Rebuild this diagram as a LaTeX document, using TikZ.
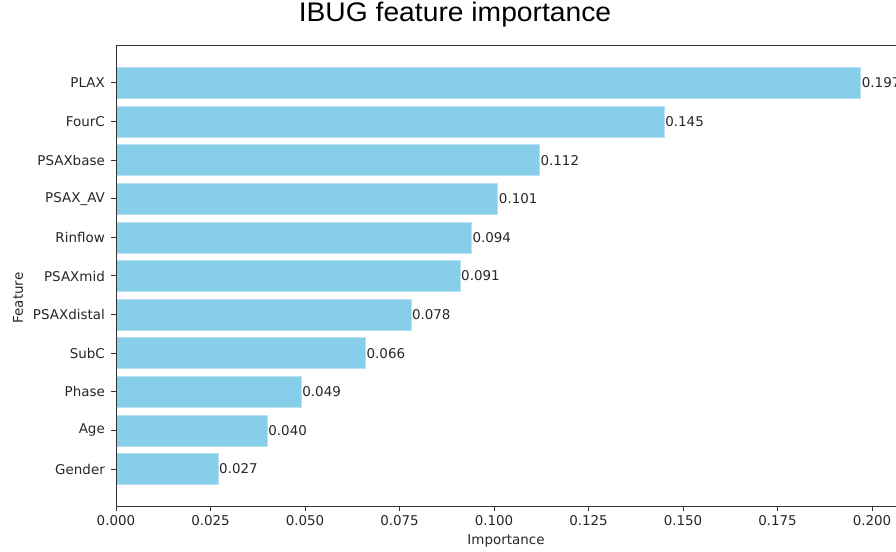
\documentclass[tikz,border=0pt]{standalone}
\usepackage{fontspec}
\setmainfont{DejaVu Sans}
\newfontfamily\titlefont{Liberation Sans}
\usepackage{xcolor}
\usetikzlibrary{positioning, calc}
\definecolor{skyblue}{HTML}{87CEEB}

\begin{document}
\begin{tikzpicture}[x=1bp, y=-1bp,
    every node/.style={font=\fontsize{13.5}{15}\selectfont, text=black!85, inner sep=0pt},
    bar/.style={fill=skyblue, draw=skyblue!60!white, line width=0.6bp},
    spine/.style={line width=1bp, black!80}]
    \useasboundingbox (0,0) rectangle (896,552);
    \clip (0,0) rectangle (896,552);

    % Title
    \node[font=\titlefont\fontsize{27}{30}\selectfont, text=black, xscale=1.05] (title) at (455,15) {IBUG feature importance};

    % Bars
    \foreach \name/\val [count=\i from 0] in {PLAX/0.197, FourC/0.145, PSAXbase/0.112, PSAX\_AV/0.101, Rinflow/0.094, PSAXmid/0.091, PSAXdistal/0.078, SubC/0.066, Phase/0.049, Age/0.040, Gender/0.027} {
        \pgfmathsetmacro{\yc}{83+\i*38.6}
        \pgfmathsetmacro{\xe}{116+\val*3780}
        \filldraw[bar] (116,\yc-15.45) rectangle (\xe,\yc+15.45);
        \node[left] (lab\i) at (105,\yc) {\name};
        \node[right] (val\i) at (\xe+1,\yc) {\val};
        \draw[spine] (111,\yc) -- (116,\yc);
    }

    % Axes
    \draw[spine] (116,46) -- (116,506) -- (900,506);
    \draw[spine] (116,46) -- (900,46);

    % Ticks
    \foreach \t [count=\k from 0] in {0.000, 0.025, 0.050, 0.075, 0.100, 0.125, 0.150, 0.175, 0.200} {
        \draw[spine] (116+\k*94.5,506) -- ++(0,5);
        \node[below] (tick\k) at (116+\k*94.5,515) {\t};
    }

    % Axis labels
    \node (xlabel) at (506,541) {Importance};
    \node[rotate=90] (ylabel) at (18,298) {Feature};

\end{tikzpicture}
\end{document}
